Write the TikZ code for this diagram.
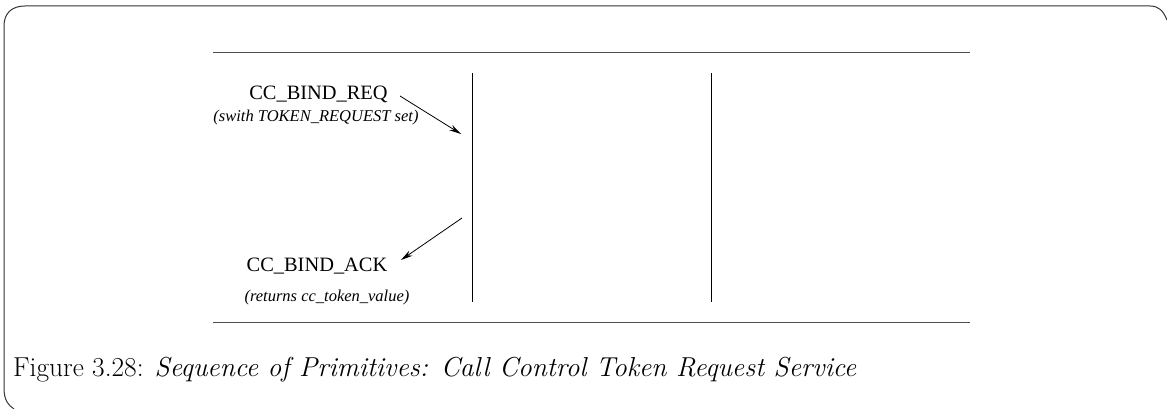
\documentclass[tikz,border=0pt]{standalone}
\usepackage{fontspec}
\usetikzlibrary{arrows.meta}
\newfontfamily\timesf{Liberation Serif}
\begin{document}
\begin{tikzpicture}[x=1pt,y=-1pt,
  rule/.style={line width=1.2pt,black!70},
  life/.style={line width=1pt,black},
  msg/.style={line width=0.8pt,-{Stealth[length=12pt,width=6pt]}},
  prim/.style={inner sep=0pt,font=\timesf\fontsize{20.4}{22}\selectfont},
  note/.style={inner sep=0pt,font=\timesf\itshape\fontsize{16.5}{18}\selectfont}]
\useasboundingbox (0,0) rectangle (1167,409);
% frame
\draw[line width=1pt,black!80] (1167,20) .. controls (1163,10) and (1158,6) .. (1150,6) -- (25,6) .. controls (12,6) and (4,13) .. (4,26) -- (4,388) .. controls (4,400) and (8,405) .. (14,409);
% rules
\coordinate (t1) at (213,52.5);
\coordinate (t2) at (970,52.5);
\coordinate (b1) at (213,322.5);
\coordinate (b2) at (970,322.5);
\draw[rule] (t1) -- (t2);
\draw[rule] (b1) -- (b2);
% lifelines
\coordinate (l1t) at (472,73.5);
\coordinate (l1b) at (472,301.5);
\coordinate (l2t) at (711,73.5);
\coordinate (l2b) at (711,301.5);
\draw[life] (l1t) -- (l1b);
\draw[life] (l2t) -- (l2b);
% texts
\node[prim] (req) at (318.5,94) {CC\_BIND\_REQ};
\node[note] (reqn) at (316,118) {(swith TOKEN\_REQUEST set)};
\node[prim] (ack) at (317,266) {CC\_BIND\_ACK};
\node[note] (ackn) at (327,298) {(returns cc\_token\_value)};
\coordinate (a1s) at (400,96);
\coordinate (a1e) at (461,134);
\coordinate (a2s) at (462,218);
\coordinate (a2e) at (401,260);
\draw[msg] (a1s) -- (a1e);
\draw[msg] (a2s) -- (a2e);
% caption
\node[anchor=base west,inner sep=0pt,font=\fontsize{27.4}{30}\selectfont] (cap) at (13,376.5) {Figure 3.28: \textit{Sequence of Primitives: Call Control Token Request Service}};
\end{tikzpicture}
\end{document}
